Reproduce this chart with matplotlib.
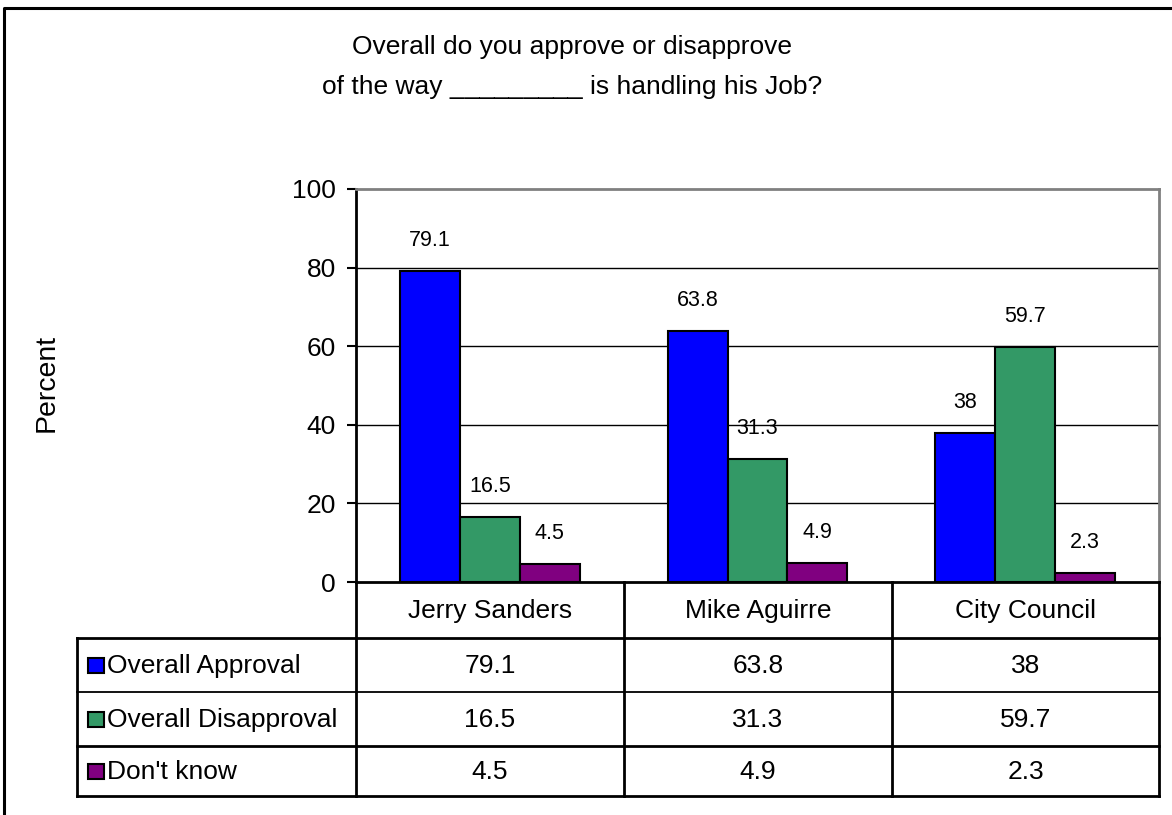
import matplotlib
matplotlib.use("Agg")
import matplotlib.pyplot as plt
from matplotlib.lines import Line2D
from matplotlib.patches import Rectangle
import numpy as np

plt.rcParams['font.family'] = ['Liberation Sans', 'DejaVu Sans']

categories = ["Jerry Sanders", "Mike Aguirre", "City Council"]
series_names = ["Overall Approval", "Overall Disapproval", "Don't know"]
approval = [79.1, 63.8, 38]
disapproval = [16.5, 31.3, 59.7]
dont_know = [4.5, 4.9, 2.3]
series_values = [approval, disapproval, dont_know]
series_labels = [["79.1", "63.8", "38"], ["16.5", "31.3", "59.7"], ["4.5", "4.9", "2.3"]]
colors = ["#0000FF", "#339966", "#800080"]
yticks = [0, 20, 40, 60, 80, 100]

W, H = 1172, 815
fig = plt.figure(figsize=(W / 100, H / 100), dpi=100)
fig.patch.set_facecolor("white")

def fx(px):
    return px / W

def fy(py):
    return 1 - py / H

# plot area in pixels
ax_l, ax_r, ax_t, ax_b = 356, 1159, 189, 582
ax = fig.add_axes([fx(ax_l), fy(ax_b), fx(ax_r) - fx(ax_l), fy(ax_t) - fy(ax_b)])

x = np.arange(len(categories))
bw = 0.224
for i, (vals, col, labs) in enumerate(zip(series_values, colors, series_labels)):
    pos = x + (i - 1) * bw
    ax.bar(pos, vals, width=bw, color=col, edgecolor="black", linewidth=1.5, zorder=3)
    for p, v, lab in zip(pos, vals, labs):
        ax.annotate(lab, (p, v), xytext=(0, 22), textcoords="offset points",
                    ha="center", va="center", fontsize=15.5, color="black", zorder=4)

ax.set_xlim(-0.5, 2.5)
ax.set_ylim(0, 100)
ax.set_yticks(yticks)
ax.set_yticklabels([str(t) for t in yticks], fontsize=19)
ax.set_xticks([])
for t in [20, 40, 60, 80]:
    ax.axhline(t, color="black", linewidth=1.0, zorder=1)
ax.spines["top"].set_color("#808080")
ax.spines["top"].set_linewidth(2)
ax.spines["right"].set_color("#808080")
ax.spines["right"].set_linewidth(2)
ax.spines["left"].set_linewidth(2)
ax.spines["bottom"].set_linewidth(2)
ax.tick_params(axis="y", direction="out", length=6.5, width=1.5, pad=8, colors="black")

# y label
fig.text(fx(47), fy(383), "Percent", rotation=90, ha="center", va="center", fontsize=20.5)

# title
fig.text(fx(572), fy(47), "Overall do you approve or disapprove", ha="center", va="center", fontsize=19)
fig.text(fx(572), fy(87), "of the way _________ is handling his Job?", ha="center", va="center", fontsize=19)

# data table
col_x = [356, 624, 892, 1159]
row_y = [582, 638, 692, 746, 796]
tab_l = 77
lw_thick = 2.0
lw_thin = 1.3

def hline(y, x0, x1, lw):
    fig.add_artist(Line2D([fx(x0), fx(x1)], [fy(y), fy(y)], color="black", linewidth=lw,
                          transform=fig.transFigure, solid_capstyle="projecting"))

def vline(xp, y0, y1, lw):
    fig.add_artist(Line2D([fx(xp), fx(xp)], [fy(y0), fy(y1)], color="black", linewidth=lw,
                          transform=fig.transFigure, solid_capstyle="projecting"))

hline(row_y[1], tab_l, col_x[-1], lw_thick)
hline(row_y[2], tab_l, col_x[-1], lw_thin)
hline(row_y[3], tab_l, col_x[-1], lw_thick)
hline(row_y[4], tab_l, col_x[-1], lw_thick)
vline(tab_l, row_y[1], row_y[4], lw_thick)
for cx in col_x:
    vline(cx, row_y[0], row_y[4], lw_thick)

# category row
for j, cat in enumerate(categories):
    cxm = (col_x[j] + col_x[j + 1]) / 2
    fig.text(fx(cxm), fy((row_y[0] + row_y[1]) / 2 + 1), cat, ha="center", va="center", fontsize=19)

# series rows
for i, (name, labs, col) in enumerate(zip(series_names, series_labels, colors)):
    yc = (row_y[i + 1] + row_y[i + 2]) / 2
    fig.add_artist(Rectangle((fx(88), fy(yc + 7.5)), fx(104) - fx(88), fy(yc - 7.5) - fy(yc + 7.5),
                             facecolor=col, edgecolor="black", linewidth=1.5,
                             transform=fig.transFigure))
    fig.text(fx(107), fy(yc + 1), name, ha="left", va="center", fontsize=19)
    for j, lab in enumerate(labs):
        cxm = (col_x[j] + col_x[j + 1]) / 2
        fig.text(fx(cxm), fy(yc + 1), lab, ha="center", va="center", fontsize=19)

# outer chart border (left and top only visible)
fig.add_artist(Line2D([fx(4), fx(4), fx(W + 20)], [fy(H + 20), fy(8), fy(8)], color="black",
                      linewidth=2.2, transform=fig.transFigure))

fig.savefig("out.png", dpi=100)
